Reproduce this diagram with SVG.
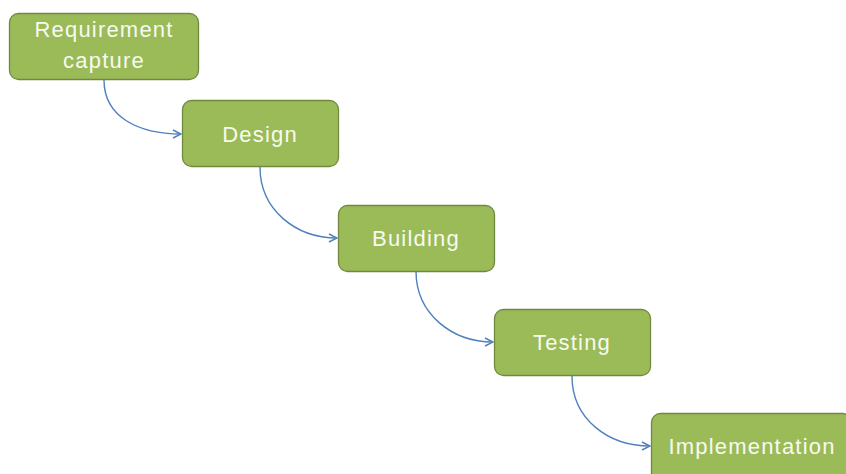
<svg xmlns="http://www.w3.org/2000/svg" width="846" height="474" viewBox="0 0 846 474">
<style>
.box{fill:#9BBB59;stroke:#71893F;stroke-width:1.3}
.lbl{font-family:"Liberation Sans",Arial,sans-serif;font-size:22px;fill:#F7FAEE;letter-spacing:1.2px;text-anchor:middle}
.conn{fill:none;stroke:#4F81BD;stroke-width:1.4;marker-end:url(#arr)}
</style>
<defs>
<marker id="arr" viewBox="0 0 10 10" refX="9" refY="5" markerWidth="10" markerHeight="10" markerUnits="userSpaceOnUse" orient="auto">
<path d="M1,1 L9,5 L1,9" fill="none" stroke="#4F81BD" stroke-width="1.4"/>
</marker>
</defs>
<rect width="846" height="474" fill="#FFFFFF"/>
<g id="connectors">
<path class="conn" d="M104,80 C104,118 140,134 181,134"/>
<path class="conn" d="M260,167 C260,210 296,238 337,238"/>
<path class="conn" d="M416,271 C416,314 452,342 493,342"/>
<path class="conn" d="M572,376 C572,419 608,446 650,446"/>
</g>
<g id="node-requirement">
<rect class="box" x="9.5" y="13.5" width="189" height="66" rx="9"/>
<text class="lbl" x="104" y="37">Requirement</text>
<text class="lbl" x="104" y="68">capture</text>
</g>
<g id="node-design">
<rect class="box" x="182.5" y="100.5" width="156" height="66" rx="9"/>
<text class="lbl" x="260" y="142">Design</text>
</g>
<g id="node-building">
<rect class="box" x="338.5" y="205.5" width="156" height="66" rx="9"/>
<text class="lbl" x="416" y="246">Building</text>
</g>
<g id="node-testing">
<rect class="box" x="494.5" y="309.5" width="156" height="66" rx="9"/>
<text class="lbl" x="572" y="350">Testing</text>
</g>
<g id="node-implementation">
<rect class="box" x="651.5" y="413.5" width="200" height="70" rx="9"/>
<text class="lbl" x="752" y="454">Implementation</text>
</g>
</svg>
